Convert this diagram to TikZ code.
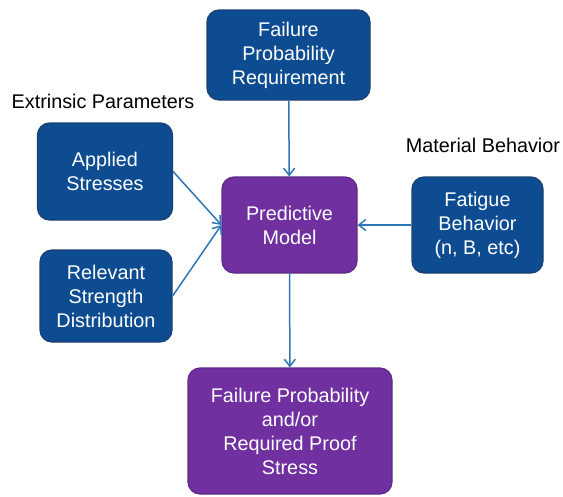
\documentclass[tikz,border=0pt]{standalone}
\usepackage{fontspec}
\setmainfont{Liberation Sans}
\usetikzlibrary{arrows.meta}
\definecolor{boxblue}{HTML}{0E4C92}
\definecolor{boxblueedge}{HTML}{1B3F6E}
\definecolor{boxpurple}{HTML}{7030A0}
\definecolor{boxpurpleedge}{HTML}{5E2A86}
\definecolor{arrowblue}{HTML}{2E75B6}
\tikzset{
  bluebox/.style={draw=boxblueedge, line width=1.2pt, fill=boxblue, rounded corners=12pt, text=white, align=center, font=\fontsize{19.8}{24}\selectfont, inner sep=0pt},
  purplebox/.style={draw=boxpurpleedge, line width=1.2pt, fill=boxpurple, rounded corners=12pt, text=white, align=center, font=\fontsize{19.8}{24}\selectfont, inner sep=0pt},
  conn/.style={draw=arrowblue, line width=1.5pt, -{Straight Barb[length=7pt,width=11pt]}},
  plain/.style={font=\fontsize{19.8}{24}\selectfont, text=black, inner sep=0pt}
}
\begin{document}
\begin{tikzpicture}[x=1pt,y=-1pt]
\useasboundingbox (0,0) rectangle (563,496);
\node[bluebox, minimum width=163pt, minimum height=90pt] (req) at (288.5,55) {Failure\\Probability\\Requirement};
\node[bluebox, minimum width=135pt, minimum height=97pt] (app) at (105,171.5) {Applied\\Stresses};
\node[bluebox, minimum width=132pt, minimum height=92pt] (rel) at (106,296) {Relevant\\Strength\\Distribution};
\node[purplebox, minimum width=135pt, minimum height=96pt] (pm) at (289.5,225) {Predictive\\Model};
\node[bluebox, minimum width=131pt, minimum height=96pt] (fat) at (477.5,225) {Fatigue\\Behavior\\(n, B, etc)};
\node[purplebox, minimum width=204pt, minimum height=126pt] (out) at (290,431) {Failure Probability\\and/or\\Required Proof\\Stress};
\node[plain] (ext) at (103,101) {Extrinsic Parameters};
\node[plain] (mat) at (483,145) {Material Behavior};
\draw[conn] (req) -- (pm);
\draw[conn] (app.east) -- (pm.west);
\draw[conn] (rel.east) -- (pm.west);
\draw[conn] (fat) -- (pm);
\draw[conn] (pm) -- (out);
\end{tikzpicture}
\end{document}
